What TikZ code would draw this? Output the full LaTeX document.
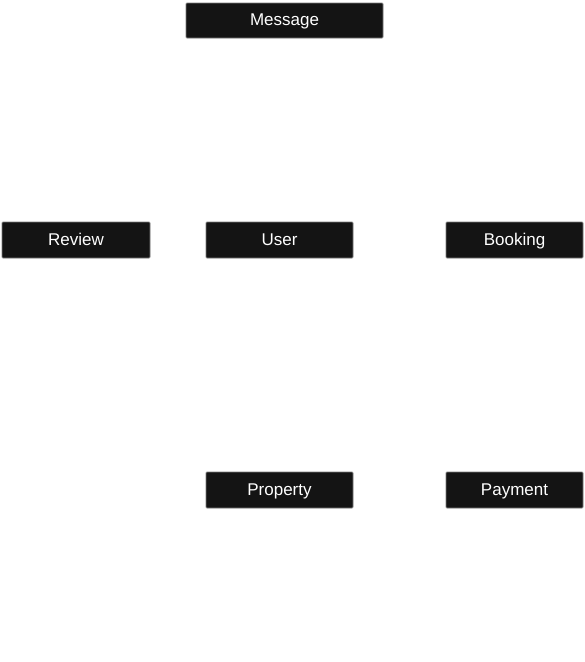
\documentclass[tikz,border=0pt]{standalone}
\usepackage{fontspec}
\setmainfont{Liberation Sans}
\definecolor{boxfill}{HTML}{141414}
\definecolor{boxline}{HTML}{7A7A7A}
\begin{document}
\begin{tikzpicture}[x=1pt,y=-1pt,
  entity/.style={draw=boxline, fill=boxfill, line width=0.8pt, rounded corners=1pt,
    text=white, font=\fontsize{17}{20}\selectfont, inner sep=0pt, anchor=center,
    text height=12.5pt, text depth=1.8pt}]
\useasboundingbox (0,0) rectangle (585,662);
\fill[white] (0,0) rectangle (585,662);
\node[entity, minimum width=197pt, minimum height=35pt] (message) at (284.5,20.5) {Message};
\node[entity, minimum width=148pt, minimum height=36pt] (review) at (76,240) {Review};
\node[entity, minimum width=147pt, minimum height=36pt] (user) at (279.5,240) {User};
\node[entity, minimum width=137pt, minimum height=36pt] (booking) at (514.5,240) {Booking};
\node[entity, minimum width=147pt, minimum height=36pt] (property) at (279.5,490) {Property};
\node[entity, minimum width=137pt, minimum height=36pt] (payment) at (514.5,490) {Payment};
\end{tikzpicture}
\end{document}
